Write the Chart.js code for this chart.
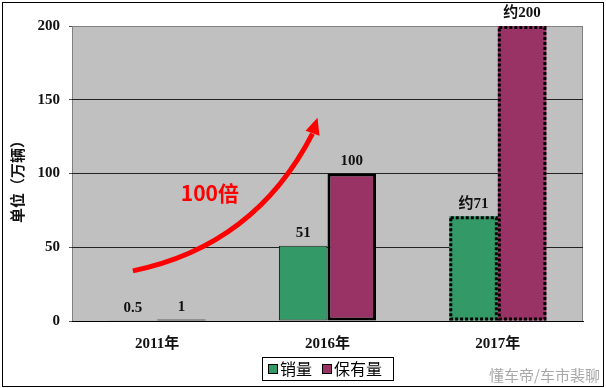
<!DOCTYPE html>
<html>
<head>
<meta charset="utf-8">
<script src="https://cdn.jsdelivr.net/npm/chart.js@4/dist/chart.umd.min.js"></script>
<style>
  html, body { margin: 0; padding: 0; background: #fff; }
  #wrap { width: 606px; height: 388px; }
</style>
</head>
<body>
<div id="wrap"><canvas id="myChart" width="606" height="388"></canvas></div>
<script>
const years = ["2011年", "2016年", "2017年"];
const salesValues = [0.5, 51, 71];
const stockValues = [1, 100, 200];
const salesLabels = ["0.5", "51", "约71"];
const stockLabels = ["1", "100", "约200"];
const seriesNames = ["销量", "保有量"];
const yTicks = [0, 50, 100, 150, 200];
const dottedYear = 2; // 2017 is an estimate, drawn with dotted outline

const colors = [
    "#339966", //sales
    "#993366" //stock
];
const numFont = "bold 15px 'Liberation Serif', 'Noto Sans CJK SC', serif";
const cjkFont = "'Noto Sans CJK SC', 'Liberation Serif', sans-serif";

// gray plot area with frame, drawn before the bars
const plotBg = {
    id: "plotBg",
    beforeDraw(chart) {
        const { ctx, chartArea: a } = chart;
        ctx.save();
        ctx.fillStyle = "#fff";
        ctx.fillRect(0, 0, chart.width, chart.height);
        ctx.fillStyle = "#c0c0c0";
        ctx.fillRect(a.left, a.top, a.right - a.left, a.bottom - a.top);
        ctx.strokeStyle = "#808080";
        ctx.lineWidth = 1;
        ctx.strokeRect(a.left + 0.5, a.top + 0.5, a.right - a.left - 1, a.bottom - a.top);
        ctx.restore();
    }
};

// labels, dotted outlines, arrow, legend, titles
const extras = {
    id: "extras",
    afterDatasetsDraw(chart) {
        const { ctx } = chart;
        ctx.save();
        // dotted outlines for the estimated year
        [0, 1].forEach(d => {
            const el = chart.getDatasetMeta(d).data[dottedYear];
            const l = el.x - el.width / 2, r = el.x + el.width / 2;
            ctx.strokeStyle = "#000";
            ctx.lineWidth = 3;
            ctx.setLineDash([3, 2]);
            ctx.strokeRect(l + 1.5, el.y + 1.5, r - l - 3, el.base - el.y - 3);
        });
        ctx.setLineDash([]);
        // value labels
        const labelSets = [salesLabels, stockLabels];
        ctx.fillStyle = "#111";
        ctx.textAlign = "center";
        ctx.textBaseline = "bottom";
        ctx.font = numFont;
        [0, 1].forEach(d => {
            chart.getDatasetMeta(d).data.forEach((el, i) => {
                ctx.fillText(labelSets[d][i], el.x, el.y - 5);
            });
        });
        // red growth arrow from 2011 towards 2016
        const x0 = chart.getDatasetMeta(0).data[0];
        const sx = x0.x, sy = chart.scales.y.getPixelForValue(34);
        const ex = chart.scales.x.getPixelForValue(1) - 15, ey = chart.scales.y.getPixelForValue(127);
        ctx.strokeStyle = "#ff0000";
        ctx.lineWidth = 5;
        ctx.beginPath();
        ctx.moveTo(sx, sy);
        ctx.quadraticCurveTo(sx + 122, sy - 25, ex, ey);
        ctx.stroke();
        ctx.fillStyle = "#ff0000";
        ctx.beginPath();
        ctx.moveTo(ex + 5, ey - 16);
        ctx.lineTo(ex - 7, ey - 3);
        ctx.lineTo(ex + 7, ey + 2);
        ctx.closePath();
        ctx.fill();
        ctx.font = "bold 21px " + cjkFont;
        ctx.textBaseline = "middle";
        ctx.fillText("100倍", sx + 77, chart.scales.y.getPixelForValue(87));
        ctx.restore();
    },
    afterDraw(chart) {
        const { ctx } = chart;
        ctx.save();
        // y axis title
        ctx.translate(17, 178);
        ctx.rotate(-Math.PI / 2);
        ctx.fillStyle = "#111";
        ctx.font = "bold 15px " + cjkFont;
        ctx.textAlign = "center";
        ctx.textBaseline = "middle";
        ctx.fillText("单位（万辆）", 0, 0);
        ctx.restore();
        // legend box
        ctx.save();
        ctx.strokeStyle = "#000";
        ctx.lineWidth = 1;
        ctx.strokeRect(262.5, 357.5, 131, 23);
        ctx.font = "16px " + cjkFont;
        ctx.textBaseline = "middle";
        ctx.textAlign = "left";
        let lx = 268;
        seriesNames.forEach((name, i) => {
            ctx.fillStyle = colors[i];
            ctx.fillRect(lx, 364, 9, 10);
            ctx.strokeStyle = "#000";
            ctx.strokeRect(lx + 0.5, 364.5, 9, 9);
            ctx.fillStyle = "#000";
            ctx.fillText(name, lx + 12, 369);
            lx += 12 + ctx.measureText(name).width + 10;
        });
        // watermark
        ctx.fillStyle = "#a8a8a8";
        ctx.font = "15px " + cjkFont;
        ctx.textAlign = "right";
        ctx.fillText("懂车帝/车市裴聊", 600, 375);
        // outer frame
        ctx.strokeStyle = "#000";
        ctx.strokeRect(2.5, 2.5, 601, 384);
        ctx.restore();
    }
};

new Chart("myChart", {
    type: "bar",
    data: {
        labels: years,
        datasets: [{
                label: seriesNames[0],
                data: salesValues,
                backgroundColor: colors[0],
                borderColor: "#222",
                borderWidth: [1, 1, 0],
                borderSkipped: false
            }, {
                label: seriesNames[1],
                data: stockValues,
                backgroundColor: colors[1],
                borderColor: "#000",
                borderWidth: [1, 3, 0],
                borderSkipped: false
            }]
    },
    options: {
        responsive: false,
        animation: false,
        devicePixelRatio: 1,
        layout: { padding: { left: 0, right: 23, top: 26, bottom: 0 } },
        datasets: { bar: { barPercentage: 1, categoryPercentage: 0.57 } },
        plugins: {
            legend: { display: false },
            tooltip: { enabled: false }
        },
        scales: {
            x: {
                grid: { display: false },
                border: { color: "#000", width: 1 },
                ticks: { color: "#111", font: { family: "'Liberation Serif', 'Noto Sans CJK SC', serif", size: 15, weight: "bold" }, padding: 6 },
                afterFit(scale) { scale.height = 67; }
            },
            y: {
                min: 0,
                max: 200,
                afterBuildTicks(scale) { scale.ticks = yTicks.map(v => ({ value: v })); },
                grid: {
                    color: ctx => (ctx.tick.value === 0 || ctx.tick.value === 200) ? "rgba(0,0,0,0)" : "#222",
                    tickLength: 3,
                    tickColor: "#555"
                },
                border: { display: false },
                ticks: { color: "#111", font: { family: "'Liberation Serif', serif", size: 15, weight: "bold" }, padding: 9 },
                afterFit(scale) { scale.width = 72; }
            }
        }
    },
    plugins: [plotBg, extras]
});
</script>
</body>
</html>
